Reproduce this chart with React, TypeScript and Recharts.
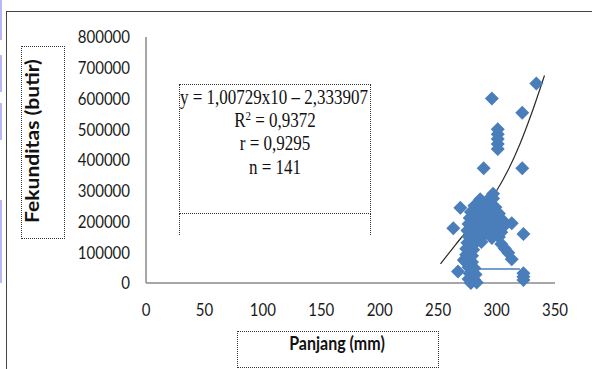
import { ComposedChart, Scatter, Line, XAxis, YAxis, ReferenceLine } from "recharts";

const xTicks = [0, 50, 100, 150, 200, 250, 300, 350];
const yTicks = [0, 100000, 200000, 300000, 400000, 500000, 600000, 700000, 800000];

// ikan yang terpisah dari gerombolan utama
const pencilan: [number, number][] = [
  [334, 649000], [296, 600000], [322, 554000],
  [301, 500000], [301, 484000], [301, 468000], [301, 452000], [301, 436000],
  [289, 373000], [322, 373000], [297, 290000],
  [269, 245000], [263, 178000], [323, 159000], [313, 194000], [313, 77000],
  [323, 32000], [323, 20000], [323, 10000], [267, 37000], [272, 75000],
];

// gerombolan utama 270-310 mm
const gerombolan: [number, number][] = [
  [286, 272000], [292, 268000], [297, 275000],
  [281, 251000], [287, 248000], [293, 253000], [299, 246000],
  [278, 231000], [284, 228000], [290, 233000], [296, 229000], [302, 226000],
  [277, 211000], [283, 208000], [289, 213000], [295, 206000], [301, 210000], [305, 205000],
  [276, 192000], [282, 188000], [288, 193000], [294, 186000], [300, 190000], [306, 184000],
  [275, 171000], [281, 168000], [287, 173000], [293, 166000], [299, 171000], [304, 165000],
  [276, 151000], [282, 148000], [288, 153000], [296, 146000], [302, 150000],
  [275, 131000], [281, 128000], [287, 133000], [304, 127000],
  [274, 111000], [280, 108000], [307, 112000],
  [274, 92000], [279, 89000], [310, 98000],
  [273, 71000], [279, 68000],
  [276, 51000], [281, 48000],
  [277, 31000], [282, 28000],
  [276, 13000], [281, 10000],
  [278, 0], [283, 2000],
];

// garis tren
const trenPanjang = [252, 265, 275, 288, 300, 310, 320, 330, 341];
const trenFekunditas = [62000, 125000, 172000, 240000, 300000, 368000, 452000, 552000, 675000];

// potongan garis sumbu yang bergeser di gambar asli
const potonganX = [284, 320];
const potonganY = 45500;

const titik = [...pencilan, ...gerombolan].map(([x, y]) => ({ x, y }));
const tren = trenPanjang.map((x, i) => ({ x, y: trenFekunditas[i] }));

const BIRU = "#4a7ebb";

function Diamond(props: { cx?: number; cy?: number }) {
  const { cx = 0, cy = 0 } = props;
  const r = 7;
  return (
    <polygon
      points={`${cx},${cy - r} ${cx + r},${cy} ${cx},${cy + r} ${cx - r},${cy}`}
      fill={BIRU}
    />
  );
}

const tickFont = { fill: "#1a1a1a", fontSize: 15, fontFamily: "Lato" };

function YTick(props: any) {
  const { x, y, payload } = props;
  return (
    <text
      x={x}
      y={y}
      dy="0.36em"
      textAnchor="end"
      {...tickFont}
      transform={`translate(0 ${y}) scale(1 1.17) translate(0 ${-y})`}
    >
      {payload.value}
    </text>
  );
}

function XTick(props: any) {
  const { x, y, payload } = props;
  const cy = y + 5;
  return (
    <text
      x={x}
      y={y}
      dy="0.71em"
      textAnchor="middle"
      {...tickFont}
      transform={`translate(0 ${cy}) scale(1 1.17) translate(0 ${-cy})`}
    >
      {payload.value}
    </text>
  );
}

const serif = { fontFamily: "'Liberation Serif', 'Times New Roman', serif", fontSize: 17, color: "#111" };

export default function App() {
  const line = (text: React.ReactNode, top: number, center = true) => (
    <div
      style={{
        position: "absolute",
        top,
        left: 0,
        width: center ? 190 : 260,
        textAlign: center ? "center" : "left",
        whiteSpace: "nowrap",
        lineHeight: "20px",
        transform: "scaleY(1.2)",
        ...serif,
      }}
    >
      {text}
    </div>
  );

  return (
    <div style={{ position: "absolute", left: 0, top: 0, width: 592, height: 369, background: "#fff", overflow: "hidden" }}>
      {/* tepi kiri */}
      {[[0, 40], [55, 92], [103, 140], [200, 283]].map(([a, b]) => (
        <div key={a} style={{ position: "absolute", left: 0, top: a, width: 2, height: b - a, background: "#b8b8f4" }} />
      ))}
      {/* bingkai */}
      <div style={{ position: "absolute", left: 6, top: 11, right: -2, bottom: -2, borderLeft: "1.5px solid #444", borderTop: "1.5px solid #444" }} />

      <div style={{ position: "absolute", left: 0, top: 0 }}>
        <ComposedChart width={592} height={369} margin={{ top: 37, right: 37, bottom: 50, left: 60 }}>
          <XAxis
            type="number"
            dataKey="x"
            domain={[0, 350]}
            ticks={xTicks}
            interval={0}
            height={36}
            tickLine={false}
            tickSize={0}
            tickMargin={21}
            axisLine={{ stroke: "#8a8a8a", strokeWidth: 1.5 }}
            tick={<XTick />}
          />
          <YAxis
            type="number"
            dataKey="y"
            domain={[0, 800000]}
            ticks={yTicks}
            interval={0}
            width={86}
            tickLine={false}
            tickSize={0}
            tickMargin={16}
            axisLine={{ stroke: "#8a8a8a", strokeWidth: 1.5 }}
            tick={<YTick />}
          />
          <ReferenceLine
            segment={[{ x: potonganX[0], y: 0 }, { x: potonganX[1] - 10, y: 0 }]}
            stroke="#ffffff"
            strokeWidth={2}
          />
          <ReferenceLine
            segment={[{ x: potonganX[0], y: potonganY }, { x: potonganX[1], y: potonganY }]}
            stroke={BIRU}
            strokeWidth={1.5}
          />
          <Scatter data={titik} dataKey="y" shape={<Diamond />} isAnimationActive={false} />
          <Line
            data={tren}
            dataKey="y"
            type="monotone"
            stroke="#2a2a2a"
            strokeWidth={1.2}
            dot={false}
            activeDot={false}
            isAnimationActive={false}
          />
        </ComposedChart>
      </div>

      {/* kotak persamaan */}
      <div style={{ position: "absolute", left: 179, top: 84, width: 190, height: 128, border: "1px dotted #333", overflow: "hidden" }}>
        {line("y = 1,00729x10 – 2,333907", 3, false)}
        {line(<span>R<sup style={{ fontSize: 11, verticalAlign: "6px", lineHeight: 0 }}>2</sup> = 0,9372</span>, 26)}
        {line("r = 0,9295", 49)}
        {line("n = 141", 73)}
      </div>
      <div style={{ position: "absolute", left: 179, top: 214, width: 190, height: 21, borderLeft: "1px dotted #333", borderRight: "1px dotted #333" }} />

      {/* judul sumbu Y */}
      <div style={{ position: "absolute", left: 21, top: 46, width: 42, height: 191, border: "1px dotted #333" }} />
      <div
        style={{
          position: "absolute",
          left: 32,
          top: 141,
          transform: "translate(-50%, -50%) rotate(-90deg) scaleX(1.17)",
          whiteSpace: "nowrap",
          fontFamily: "Lato",
          fontWeight: 700,
          fontSize: 18,
          color: "#111",
        }}
      >
        Fekunditas (butir)
      </div>

      {/* judul sumbu X */}
      <div style={{ position: "absolute", left: 237, top: 331, width: 200, height: 35, border: "1px dotted #333" }} />
      <div
        style={{
          position: "absolute",
          left: 337,
          top: 343,
          transform: "translate(-50%, -50%) scaleY(1.15)",
          whiteSpace: "nowrap",
          fontFamily: "Lato",
          fontWeight: 700,
          fontSize: 16,
          color: "#111",
        }}
      >
        Panjang (mm)
      </div>
    </div>
  );
}
